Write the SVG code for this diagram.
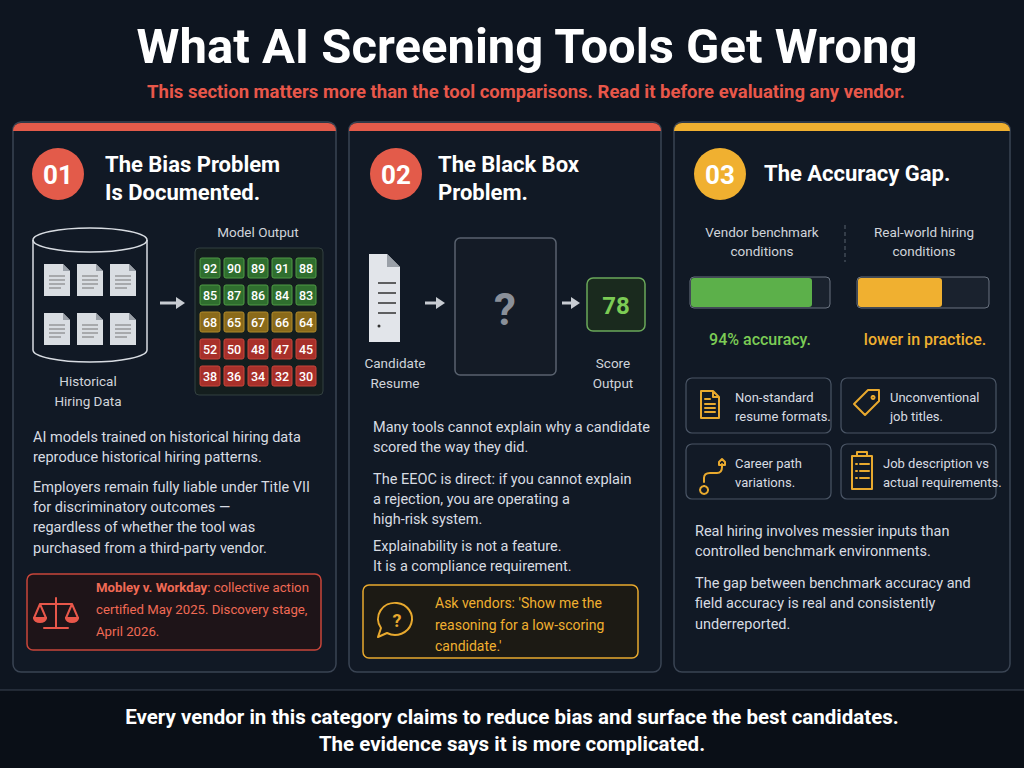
<svg xmlns="http://www.w3.org/2000/svg" width="1024" height="768" viewBox="0 0 1024 768">
<style>
text{font-family:Roboto,"Liberation Sans",sans-serif}
.ttl{font-size:22px;font-weight:bold;fill:#fff}
.num{font-size:26px;font-weight:bold;fill:#fff;text-anchor:middle}
.body{font-size:14.5px;fill:#d8dce2}
.lbl{font-size:13.5px;fill:#d0d4da;text-anchor:middle}
.panel{fill:#111925;stroke:#3a4453;stroke-width:1.5}
.cell{font-size:12.5px;fill:#fff;text-anchor:middle;font-weight:500}
.g{fill:#2f6e2e;stroke:#4f9a44}
.y{fill:#8a6a1a;stroke:#b08a2a}
.r{fill:#a8302a;stroke:#c8453a}
.ico{fill:none;stroke:#e8a92e;stroke-width:2;stroke-linecap:round;stroke-linejoin:round}
.fbox{fill:#121a26;stroke:#4a5565;stroke-width:1.2}
.ftxt{font-size:13px;fill:#d8dce2}
</style>
<defs>
<g id="doc"><path d="M0 0h19l7 7v25H0z" fill="#d9dde2"/><path d="M19 0v7h7z" fill="#9aa0a8"/><path d="M5 12h16M5 16h16M5 20h16M5 24h12" stroke="#777" stroke-width="1.2"/></g>
</defs>
<rect width="1024" height="768" fill="#0e1520"/>
<text x="527" y="63" text-anchor="middle" font-size="49" font-weight="bold" fill="#fff">What AI Screening Tools Get Wrong</text>
<text x="526" y="98" text-anchor="middle" font-size="18.5" font-weight="bold" fill="#e8574a">This section matters more than the tool comparisons. Read it before evaluating any vendor.</text>

<g id="panel1">
<rect class="panel" x="13" y="122" width="323" height="550" rx="8"/>
<path d="M13 131a8 8 0 0 1 8-8h307a8 8 0 0 1 8 8z" fill="#e35b4a"/>
<circle cx="58" cy="174" r="26" fill="#e35b4a"/><text class="num" x="58" y="184">01</text>
<text class="ttl" x="105" y="172">The Bias Problem</text><text class="ttl" x="105" y="200">Is Documented.</text>
<g fill="none" stroke="#d8dce2" stroke-width="1.5"><path d="M33 240v110a57 12 0 0 0 114 0V240"/><ellipse cx="90" cy="240" rx="57" ry="12"/></g>
<use href="#doc" x="44" y="264"/><use href="#doc" x="77" y="264"/><use href="#doc" x="110" y="264"/>
<use href="#doc" x="44" y="313"/><use href="#doc" x="77" y="313"/><use href="#doc" x="110" y="313"/>
<text class="lbl" x="88" y="386">Historical</text><text class="lbl" x="88" y="406">Hiring Data</text>
<text class="lbl" x="258" y="237">Model Output</text>
<rect x="195" y="248" width="128" height="147" rx="4" fill="#141e1e" stroke="#334040"/>
<g>
<rect class="g" x="200" y="258" width="20" height="20" rx="2"/><rect class="g" x="224" y="258" width="20" height="20" rx="2"/><rect class="g" x="248" y="258" width="20" height="20" rx="2"/><rect class="g" x="272" y="258" width="20" height="20" rx="2"/><rect class="g" x="296" y="258" width="20" height="20" rx="2"/>
<rect class="g" x="200" y="285" width="20" height="20" rx="2"/><rect class="g" x="224" y="285" width="20" height="20" rx="2"/><rect class="g" x="248" y="285" width="20" height="20" rx="2"/><rect class="g" x="272" y="285" width="20" height="20" rx="2"/><rect class="g" x="296" y="285" width="20" height="20" rx="2"/>
<rect class="y" x="200" y="312" width="20" height="20" rx="2"/><rect class="y" x="224" y="312" width="20" height="20" rx="2"/><rect class="y" x="248" y="312" width="20" height="20" rx="2"/><rect class="y" x="272" y="312" width="20" height="20" rx="2"/><rect class="y" x="296" y="312" width="20" height="20" rx="2"/>
<rect class="r" x="200" y="339" width="20" height="20" rx="2"/><rect class="r" x="224" y="339" width="20" height="20" rx="2"/><rect class="r" x="248" y="339" width="20" height="20" rx="2"/><rect class="r" x="272" y="339" width="20" height="20" rx="2"/><rect class="r" x="296" y="339" width="20" height="20" rx="2"/>
<rect class="r" x="200" y="366" width="20" height="20" rx="2"/><rect class="r" x="224" y="366" width="20" height="20" rx="2"/><rect class="r" x="248" y="366" width="20" height="20" rx="2"/><rect class="r" x="272" y="366" width="20" height="20" rx="2"/><rect class="r" x="296" y="366" width="20" height="20" rx="2"/>
</g>
<g class="cell">
<text x="210" y="273">92</text><text x="234" y="273">90</text><text x="258" y="273">89</text><text x="282" y="273">91</text><text x="306" y="273">88</text>
<text x="210" y="300">85</text><text x="234" y="300">87</text><text x="258" y="300">86</text><text x="282" y="300">84</text><text x="306" y="300">83</text>
<text x="210" y="327">68</text><text x="234" y="327">65</text><text x="258" y="327">67</text><text x="282" y="327">66</text><text x="306" y="327">64</text>
<text x="210" y="354">52</text><text x="234" y="354">50</text><text x="258" y="354">48</text><text x="282" y="354">47</text><text x="306" y="354">45</text>
<text x="210" y="381">38</text><text x="234" y="381">36</text><text x="258" y="381">34</text><text x="282" y="381">32</text><text x="306" y="381">30</text>
</g>
<text class="body" x="33" y="442">AI models trained on historical hiring data</text>
<text class="body" x="33" y="462">reproduce historical hiring patterns.</text>
<text class="body" x="33" y="492">Employers remain fully liable under Title VII</text>
<text class="body" x="33" y="512">for discriminatory outcomes —</text>
<text class="body" x="33" y="532">regardless of whether the tool was</text>
<text class="body" x="33" y="553">purchased from a third-party vendor.</text>
<rect x="27" y="574" width="294" height="76" rx="6" fill="#1e1418" stroke="#c8453a" stroke-width="1.5"/>
<g fill="none" stroke="#e8574a" stroke-width="2" stroke-linecap="round"><path d="M56 598v30M44 628h24M40 604h32M40 604l-6 14M40 604l6 14M72 604l-6 14M72 604l6 14"/><path d="M34 618a6 4 0 0 0 12 0zM66 618a6 4 0 0 0 12 0z" fill="#e8574a"/></g>
<text x="96" y="592" font-size="13.2" fill="#f06a55"><tspan font-weight="bold">Mobley v. Workday</tspan>: collective action</text>
<text x="96" y="614" font-size="13.2" fill="#f06a55">certified May 2025. Discovery stage,</text>
<text x="96" y="636" font-size="13.2" fill="#f06a55">April 2026.</text>
</g>

<g id="panel2">
<rect class="panel" x="349" y="122" width="312" height="550" rx="8"/>
<path d="M349 131a8 8 0 0 1 8-8h296a8 8 0 0 1 8 8z" fill="#e35b4a"/>
<circle cx="396" cy="174" r="26" fill="#e35b4a"/><text class="num" x="396" y="184">02</text>
<text class="ttl" x="438" y="172">The Black Box</text><text class="ttl" x="438" y="200">Problem.</text>
<path d="M369 254h18l13 13v75h-31z" fill="#e2e5ea"/><path d="M387 254v13h13z" fill="#9aa0a8"/>
<path d="M378 283h18M378 293h18M378 303h18M378 313h18" stroke="#333" stroke-width="1.5"/><circle cx="379" cy="326" r="1.5" fill="#333"/>
<rect x="455" y="238" width="101" height="137" rx="5" fill="#141b26" stroke="#59626f" stroke-width="1.5"/>
<text x="505" y="325" text-anchor="middle" font-size="44" font-weight="bold" fill="#8a9099">?</text>
<rect x="587" y="278" width="58" height="53" rx="6" fill="#1a2a1e" stroke="#6aa85a" stroke-width="1.5"/>
<text x="616" y="314" text-anchor="middle" font-size="24" font-weight="bold" fill="#7ccc55">78</text>
<text class="lbl" x="395" y="368">Candidate</text><text class="lbl" x="395" y="388">Resume</text>
<text class="lbl" x="613" y="368">Score</text><text class="lbl" x="613" y="388">Output</text>
<text class="body" x="373" y="432">Many tools cannot explain why a candidate</text>
<text class="body" x="373" y="452">scored the way they did.</text>
<text class="body" x="373" y="484">The EEOC is direct: if you cannot explain</text>
<text class="body" x="373" y="504">a rejection, you are operating a</text>
<text class="body" x="373" y="524">high-risk system.</text>
<text class="body" x="373" y="551">Explainability is not a feature.</text>
<text class="body" x="373" y="571">It is a compliance requirement.</text>
<rect x="363" y="585" width="275" height="73" rx="6" fill="#1c1a14" stroke="#e8a92e" stroke-width="1.5"/>
<path class="ico" d="M397 603a17 16 0 1 1-10 30l-9 4 3-9a17 16 0 0 1 16-25z"/>
<text x="397" y="627" text-anchor="middle" font-size="18" font-weight="bold" fill="#e8a92e">?</text>
<text x="435" y="608" font-size="14" fill="#f0b030">Ask vendors: 'Show me the</text>
<text x="435" y="630" font-size="14" fill="#f0b030">reasoning for a low-scoring</text>
<text x="435" y="651" font-size="14" fill="#f0b030">candidate.'</text>
</g>

<g id="panel3">
<rect class="panel" x="674" y="122" width="336" height="550" rx="8"/>
<path d="M674 131a8 8 0 0 1 8-8h320a8 8 0 0 1 8 8z" fill="#f0b030"/>
<circle cx="720" cy="174" r="26" fill="#f0b030"/><text class="num" x="720" y="184">03</text>
<text class="ttl" x="764" y="181">The Accuracy Gap.</text>
<text class="lbl" x="762" y="237">Vendor benchmark</text><text class="lbl" x="762" y="256">conditions</text>
<text class="lbl" x="924" y="237">Real-world hiring</text><text class="lbl" x="924" y="256">conditions</text>
<path d="M845 225v37" stroke="#59626f" stroke-dasharray="4 3"/>
<rect x="690" y="277" width="140" height="31" rx="4" fill="#1a222e" stroke="#6a7380"/>
<rect x="691" y="278" width="121" height="29" rx="3" fill="#5cb04a"/>
<rect x="857" y="277" width="132" height="31" rx="4" fill="#1a222e" stroke="#6a7380"/>
<rect x="858" y="278" width="84" height="29" rx="3" fill="#f0b030"/>
<text x="760" y="345" text-anchor="middle" font-size="16" font-weight="500" fill="#7ccc55">94% accuracy.</text>
<text x="925" y="345" text-anchor="middle" font-size="16" font-weight="500" fill="#f0b030">lower in practice.</text>
<rect class="fbox" x="686" y="378" width="145" height="55" rx="6"/>
<rect class="fbox" x="841" y="378" width="155" height="55" rx="6"/>
<rect class="fbox" x="686" y="444" width="145" height="55" rx="6"/>
<rect class="fbox" x="841" y="444" width="155" height="55" rx="6"/>
<path class="ico" d="M701 391h12l6 6v21h-18zM713 391v6h6M705 399h5M705 404h10M705 408h10M705 412h10"/>
<path class="ico" d="M868 390h11v11l-14 14-11-11zM873 396a1.5 1.5 0 1 0 0.1 0"/>
<path class="ico" d="M704 486a4 4 0 1 0 0.1 0M704 482v-4q0-5 6-5h7q5 0 5-6v-3M719 462l3-3 3 3v3h-6z"/>
<path class="ico" d="M852 456h20v33h-20zM857 456v-4h10v4M856 464h1M860 464h9M856 471h1M860 471h9M856 478h1M860 478h9"/>
<text class="ftxt" x="735" y="402">Non-standard</text><text class="ftxt" x="735" y="421">resume formats.</text>
<text class="ftxt" x="890" y="402">Unconventional</text><text class="ftxt" x="890" y="421">job titles.</text>
<text class="ftxt" x="735" y="468">Career path</text><text class="ftxt" x="735" y="487">variations.</text>
<text class="ftxt" x="883" y="468">Job description vs</text><text class="ftxt" x="883" y="487">actual requirements.</text>
<text class="body" x="695" y="536">Real hiring involves messier inputs than</text>
<text class="body" x="695" y="556">controlled benchmark environments.</text>
<text class="body" x="695" y="588">The gap between benchmark accuracy and</text>
<text class="body" x="695" y="608">field accuracy is real and consistently</text>
<text class="body" x="695" y="629">underreported.</text>
</g>

<g id="connectors" fill="#c8ccd2">
<path d="M160 303h17" stroke="#c8ccd2" stroke-width="3"/><path d="M176 297l9 6-9 6z"/>
<path d="M425 303h12" stroke="#c8ccd2" stroke-width="3"/><path d="M436 297l9 6-9 6z"/>
<path d="M562 303h10" stroke="#c8ccd2" stroke-width="3"/><path d="M571 297l9 6-9 6z"/>
</g>

<g id="footer">
<rect x="0" y="690" width="1024" height="78" fill="#0a0f17"/>
<path d="M0 690h1024" stroke="#3a4453"/>
<text x="512" y="724" text-anchor="middle" font-size="20.5" font-weight="bold" fill="#fff">Every vendor in this category claims to reduce bias and surface the best candidates.</text>
<text x="512" y="751" text-anchor="middle" font-size="20.5" font-weight="bold" fill="#fff">The evidence says it is more complicated.</text>
</g>
</svg>
